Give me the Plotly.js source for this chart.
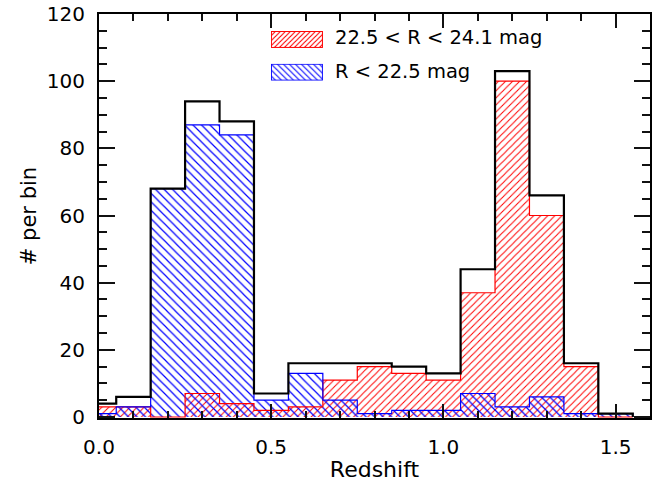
<!DOCTYPE html>
<html>
<head>
<meta charset="utf-8">
<script src="https://cdn.plot.ly/plotly-3.0.1.min.js"></script>
<style>
  html, body { margin: 0; padding: 0; background: #fff; }
  #chart { width: 660px; height: 482px; }
</style>
</head>
<body>
<div id="chart"></div>
<script>
// Redshift bin centres (bin width 0.1)
const binCenters = [0.0, 0.1, 0.2, 0.3, 0.4, 0.5, 0.6, 0.7, 0.8, 0.9, 1.0, 1.1, 1.2, 1.3, 1.4, 1.5];
// Counts per bin
const totalCounts = [4, 6, 68, 94, 88, 7, 16, 16, 16, 15, 13, 44, 103, 66, 16, 1];
const faintCounts = [3, 3, 0, 7, 4, 2, 3, 11, 15, 13, 11, 37, 100, 60, 15, 0];   // 22.5 < R < 24.1
const brightCounts = [1, 3, 68, 87, 84, 5, 13, 5, 1, 2, 2, 7, 3, 6, 1, 1];       // R < 22.5
const faintLabel = "22.5 < R < 24.1 mag";
const brightLabel = "R < 22.5 mag";
const xTickVals = [0, 0.5, 1.0, 1.5];
const xTickText = ["0.0", "0.5", "1.0", "1.5"];
const yTickVals = [0, 20, 40, 60, 80, 100, 120];
const binWidth = 0.1;

const RED = "#ff0000", BLUE = "#0000ff", BLACK = "#000000";
const TICK = "#111111";

// Step outline (histogram style) built from bin centres and counts
function stepLine(values, color, width) {
  const xs = [], ys = [];
  xs.push(binCenters[0] - binWidth / 2); ys.push(0);
  for (let i = 0; i < values.length; i++) {
    xs.push(binCenters[i] - binWidth / 2); ys.push(values[i]);
  }
  xs.push(binCenters[binCenters.length - 1] + binWidth / 2); ys.push(0);
  return {
    type: "scatter", mode: "lines", x: xs, y: ys,
    line: { shape: "hv", color: color, width: width },
    hoverinfo: "skip", showlegend: false
  };
}

function hatchBars(values, color, shape, size) {
  return {
    type: "bar", x: binCenters, y: values, width: binWidth,
    marker: {
      color: "rgba(0,0,0,0)",
      line: { width: 0 },
      pattern: { shape: shape, fgcolor: color, bgcolor: "rgba(0,0,0,0)",
                 size: size, solidity: 0.2 }
    },
    showlegend: false, hoverinfo: "skip"
  };
}

const traces = [
  hatchBars(faintCounts, RED, "/", 5),
  hatchBars(brightCounts, BLUE, "\\", 6),
  stepLine(faintCounts, RED, 1.2),
  stepLine(brightCounts, BLUE, 1.2),
  stepLine(totalCounts, BLACK, 2.2)
];

// Hatched key swatch as a small inline SVG
function swatchSvg(color, size, forward) {
  const s = size;
  const d = forward
    ? `M0,${s} L${s},0 M${-s / 4},${s / 4} L${s / 4},${-s / 4} M${s - s / 4},${s + s / 4} L${s + s / 4},${s - s / 4}`
    : `M0,0 L${s},${s} M${-s / 4},${s - s / 4} L${s / 4},${s + s / 4} M${s - s / 4},${-s / 4} L${s + s / 4},${s / 4}`;
  const svg = `<svg xmlns='http://www.w3.org/2000/svg' width='52' height='17' viewBox='0 0 52 17'>` +
    `<defs><pattern id='h' width='${s}' height='${s}' patternUnits='userSpaceOnUse'>` +
    `<path d='${d}' stroke='${color}' stroke-width='1' fill='none'/></pattern></defs>` +
    `<rect x='0.5' y='0.5' width='51' height='16' fill='url(#h)' stroke='${color}' stroke-width='1'/></svg>`;
  return "data:image/svg+xml;charset=utf-8," + encodeURIComponent(svg);
}

const layout = {
  width: 660, height: 482,
  margin: { l: 99, r: 10, t: 14, b: 64 },
  paper_bgcolor: "#fff", plot_bgcolor: "#fff",
  barmode: "overlay", bargap: 0,
  showlegend: false,
  font: { family: "DejaVu Sans", color: BLACK, size: 20 },
  xaxis: {
    range: [0, 1.6], tickvals: xTickVals, ticktext: xTickText,
    ticks: "inside", ticklen: 14, tickwidth: 2, tickcolor: TICK,
    minor: { dtick: 0.1, tick0: 0, ticks: "inside", ticklen: 7, tickwidth: 2, tickcolor: TICK },
    showline: true, linecolor: BLACK, linewidth: 2, mirror: "allticks",
    showgrid: false, zeroline: false,
    ticklabelstandoff: 10,
    title: { text: "Redshift", font: { size: 22 }, standoff: 6 }
  },
  yaxis: {
    range: [-0.3, 120], tickvals: yTickVals,
    ticks: "inside", ticklen: 16, tickwidth: 2, tickcolor: TICK,
    minor: { dtick: 5, tick0: 0, ticks: "inside", ticklen: 8, tickwidth: 2, tickcolor: TICK },
    showline: true, linecolor: BLACK, linewidth: 2, mirror: "allticks",
    showgrid: false, zeroline: false,
    ticklabelstandoff: 8,
    title: { text: "# per bin", font: { size: 21 }, standoff: 4 }
  },
  images: [
    { source: swatchSvg(RED, 5, true), xref: "paper", yref: "paper",
      x: 0.312, y: 0.958, sizex: 0.0944, sizey: 0.042, sizing: "stretch",
      xanchor: "left", yanchor: "top", layer: "above" },
    { source: swatchSvg(BLUE, 6, false), xref: "paper", yref: "paper",
      x: 0.312, y: 0.877, sizex: 0.0944, sizey: 0.042, sizing: "stretch",
      xanchor: "left", yanchor: "top", layer: "above" }
  ],
  annotations: [
    { xref: "paper", yref: "paper", x: 0.425, y: 0.942, xanchor: "left", yanchor: "middle",
      text: faintLabel, showarrow: false, font: { size: 19.5 } },
    { xref: "paper", yref: "paper", x: 0.425, y: 0.857, xanchor: "left", yanchor: "middle",
      text: brightLabel, showarrow: false, font: { size: 19.5 } }
  ]
};

Plotly.newPlot("chart", traces, layout, { staticPlot: true });
</script>
</body>
</html>
